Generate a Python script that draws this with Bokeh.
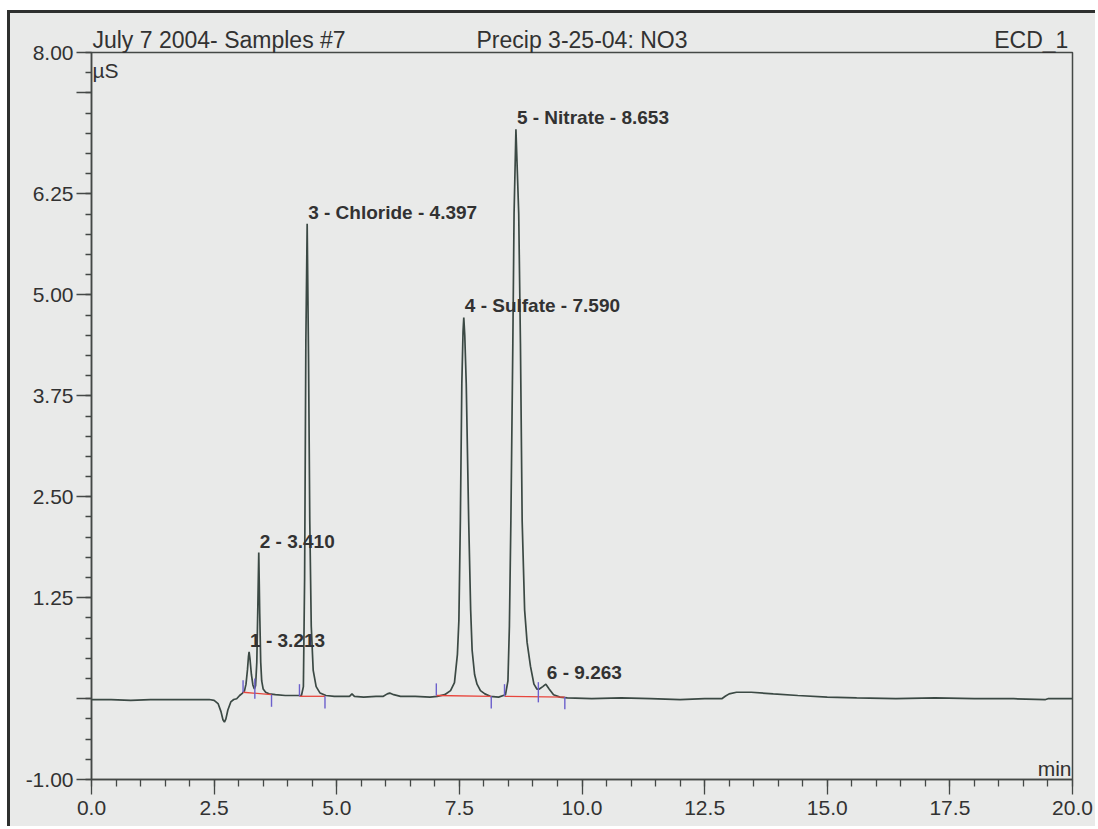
from bokeh.plotting import figure
from bokeh.models import (ColumnDataSource, FixedTicker, Label, LabelSet, Range1d, LinearAxis)
from bokeh.core.properties import value
from bokeh.embed import file_html
from bokeh.resources import INLINE

# ---------------- data ----------------
time_min = [0.00, 0.40, 0.80, 1.20, 1.60, 2.00, 2.40, 2.50, 2.58, 2.64, 2.68, 2.71, 2.74, 2.78, 2.84, 2.90, 2.96, 3.02, 3.08,
            3.12, 3.15, 3.18, 3.20, 3.213, 3.23, 3.26, 3.29, 3.32,
            3.345, 3.37, 3.39, 3.41, 3.43, 3.45, 3.47, 3.50, 3.55, 3.62, 3.75, 3.95, 4.15, 4.28,
            4.32, 4.345, 4.37, 4.397, 4.425, 4.45, 4.48, 4.52, 4.58, 4.66, 4.78,
            4.95, 5.15, 5.26, 5.31, 5.36, 5.55, 5.80, 5.95, 6.03, 6.08, 6.16, 6.30, 6.60, 6.90, 7.05, 7.20, 7.32,
            7.40, 7.46, 7.49, 7.52, 7.55, 7.575, 7.59, 7.61, 7.64, 7.69, 7.73, 7.76, 7.81, 7.86, 7.93, 8.02, 8.13, 8.30,
            8.44, 8.49, 8.52, 8.55, 8.59, 8.615, 8.653, 8.71, 8.745, 8.78, 8.83, 8.88, 8.95, 9.02, 9.08, 9.13,
            9.20, 9.263, 9.33, 9.42, 9.55, 9.70,
            10.2, 10.8, 11.4, 12.0, 12.5, 12.85, 12.92, 13.0, 13.15, 13.45, 13.9, 14.4, 15.0, 15.6, 16.4, 17.2,
            18.0, 18.8, 19.45, 19.5, 20.0]
signal_us = [-0.01, -0.01, -0.02, -0.01, -0.01, -0.01, -0.01, -0.02, -0.06, -0.16, -0.26, -0.29, -0.25, -0.14, -0.04, -0.01, 0.00, 0.04, 0.07,
             0.10, 0.18, 0.36, 0.52, 0.58, 0.50, 0.30, 0.17, 0.12,
             0.16, 0.45, 1.10, 1.81, 1.05, 0.45, 0.22, 0.12, 0.08, 0.06, 0.05, 0.04, 0.04, 0.04,
             0.15, 1.50, 4.40, 5.88, 4.20, 2.20, 0.90, 0.35, 0.15, 0.07, 0.04,
             0.03, 0.03, 0.03, 0.06, 0.03, 0.02, 0.03, 0.03, 0.06, 0.07, 0.05, 0.03, 0.03, 0.02, 0.03, 0.05, 0.10,
             0.20, 0.55, 0.97, 2.20, 3.90, 4.55, 4.72, 4.50, 3.90, 2.20, 1.10, 0.60, 0.30, 0.18, 0.10, 0.06, 0.03, 0.02,
             0.05, 0.22, 0.90, 2.20, 4.40, 6.00, 7.05, 6.00, 4.40, 2.20, 1.10, 0.70, 0.40, 0.18, 0.12, 0.12,
             0.15, 0.18, 0.12, 0.05, 0.02, 0.01,
             0.00, 0.01, 0.00, -0.01, 0.00, 0.00, 0.03, 0.06, 0.08, 0.08, 0.06, 0.04, 0.02, 0.01, 0.00, 0.01,
             0.00, 0.00, -0.01, 0.00, 0.00]

peak_time = [3.213, 3.410, 4.397, 7.590, 8.653, 9.263]
peak_height = [0.58, 1.81, 5.88, 4.72, 7.05, 0.18]
peak_label = ["1 - 3.213", "2 - 3.410", "3 - Chloride - 4.397", "4 - Sulfate - 7.590",
              "5 - Nitrate - 8.653", "6 - 9.263"]

base_t0 = [3.09, 4.24, 7.03, 8.42]
base_t1 = [3.67, 4.76, 8.15, 9.65]
base_v0 = [0.08, 0.03, 0.04, 0.03]
base_v1 = [0.05, 0.03, 0.03, 0.02]

mark_time = [3.09, 3.33, 3.67, 4.24, 4.76, 7.03, 8.15, 8.42, 9.11, 9.65]
mark_base = [0.08, 0.07, 0.05, 0.03, 0.03, 0.04, 0.03, 0.03, 0.025, 0.02]
mark_kind = ["start", "both", "end", "start", "end", "start", "end", "start", "both", "end"]

x_ticks = [0.0, 2.5, 5.0, 7.5, 10.0, 12.5, 15.0, 17.5, 20.0]
x_tick_labels = ["0.0", "2.5", "5.0", "7.5", "10.0", "12.5", "15.0", "17.5", "20.0"]
y_ticks = [-1.0, 0.0, 1.25, 2.5, 3.75, 5.0, 6.25, 7.5, 8.0]
y_tick_labels = ["-1.00", "", "1.25", "2.50", "3.75", "5.00", "6.25", "", "8.00"]

header_texts = ["July 7 2004- Samples #7", "Precip 3-25-04: NO3", "ECD_1"]
header_centers = [2.60, 10.0, 19.16]
y_unit = "µS"
x_unit = "min"

# ---------------- styling ----------------
FONT = "Liberation Sans"
TXT = "#323232"
AX = "#444846"
BG = "#e9eae9"
TRACE = "#3b4944"
FRAME = "#2e302f"

# figure sits inside the printout's outer frame (left/top edges visible)
p = figure(width=1088, height=816, output_backend="svg", toolbar_location=None,
           x_range=Range1d(0, 20), y_range=Range1d(-1, 8),
           min_border_left=81, min_border_right=26, min_border_top=39, min_border_bottom=50)
p.styles = {"margin-left": "7px", "margin-top": "10px",
            "border-left": "3px solid " + FRAME, "border-top": "3px solid " + FRAME,
            "background-color": BG}
p.background_fill_color = BG
p.border_fill_color = BG
p.outline_line_color = AX
p.outline_line_width = 1.5
p.xgrid.visible = False
p.ygrid.visible = False

# axes
p.xaxis.ticker = FixedTicker(ticks=x_ticks, minor_ticks=[i * 0.5 for i in range(41)])
p.xaxis.major_label_overrides = {t: s for t, s in zip(x_ticks, x_tick_labels)}
p.yaxis.ticker = FixedTicker(ticks=y_ticks, minor_ticks=[-1 + i * 0.25 for i in range(37)])
p.yaxis.major_label_overrides = {t: s for t, s in zip(y_ticks, y_tick_labels)}
for ax in (p.xaxis[0], p.yaxis[0]):
    ax.axis_line_color = AX
    ax.axis_line_width = 1.5
    ax.major_tick_line_color = AX
    ax.major_tick_line_width = 1.3
    ax.minor_tick_line_color = AX
    ax.minor_tick_line_width = 1.3
    ax.major_tick_in = 0
    ax.major_tick_out = 15
    ax.minor_tick_in = 0
    ax.major_label_text_font = FONT
    ax.major_label_text_font_size = "21px"
    ax.major_label_text_color = TXT
p.xaxis.minor_tick_out = 7
p.yaxis.minor_tick_out = 6
p.xaxis.major_label_standoff = 6
p.yaxis.major_label_standoff = 3

# header line drawn as an unlined axis above the frame
head = LinearAxis(ticker=FixedTicker(ticks=header_centers, minor_ticks=[]),
                  major_label_overrides={c: t for c, t in zip(header_centers, header_texts)})
head.axis_line_color = None
head.major_tick_line_color = None
head.minor_tick_line_color = None
head.major_tick_out = 0
head.major_tick_in = 0
head.major_label_standoff = 0
head.major_label_text_font = FONT
head.major_label_text_font_size = "23px"
head.major_label_text_color = TXT
p.add_layout(head, "above")

# trace
src = ColumnDataSource(dict(t=time_min, v=signal_us))
p.line("t", "v", source=src, line_color=TRACE, line_width=1.7)

# integration baselines
bsrc = ColumnDataSource(dict(x0=base_t0, x1=base_t1, y0=base_v0, y1=base_v1))
p.segment("x0", "y0", "x1", "y1", source=bsrc, line_color="#e8463d", line_width=1.3)

# peak delimiters
tick_len = 0.15
lo, hi = [], []
for b, k in zip(mark_base, mark_kind):
    if k == "start":
        lo.append(b); hi.append(b + tick_len)
    elif k == "end":
        lo.append(b - tick_len); hi.append(b)
    else:
        lo.append(b - 0.07); hi.append(b + 0.18)
msrc = ColumnDataSource(dict(x=mark_time, lo=lo, hi=hi))
p.segment("x", "lo", "x", "hi", source=msrc, line_color="#6c60cc", line_width=1.4)

# peak labels
psrc = ColumnDataSource(dict(x=peak_time, y=peak_height, text=peak_label))
p.add_layout(LabelSet(x="x", y="y", text="text", source=psrc, x_offset=1, y_offset=5,
                      text_font=value(FONT), text_font_style="bold", text_font_size="19px",
                      text_color=TXT, text_baseline="alphabetic"))

# units
p.add_layout(Label(x=0, y=8, x_offset=1, y_offset=-18, text=y_unit, text_font=FONT,
                   text_font_size="21px", text_color=TXT, text_baseline="alphabetic"))
p.add_layout(Label(x=20, y=-1, x_offset=-1, y_offset=11, text=x_unit, text_font=FONT,
                   text_font_size="21px", text_color=TXT, text_baseline="alphabetic",
                   text_align="right"))

open("out.html", "w").write(file_html(p, INLINE))
